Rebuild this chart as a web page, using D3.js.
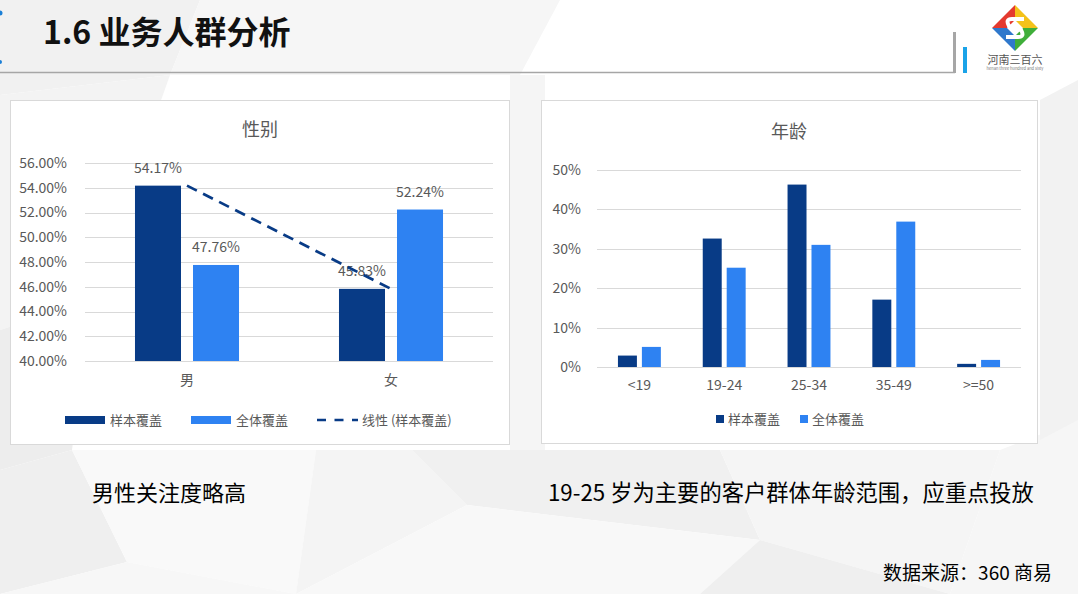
<!DOCTYPE html>
<html><head><meta charset="utf-8">
<script src="https://cdn.jsdelivr.net/npm/d3@7"></script>
<style>
html,body{margin:0;padding:0;background:#fff;}
svg{display:block;}
text{font-family:"Noto Sans CJK SC","Noto Sans",sans-serif;}
</style></head>
<body>
<svg id="c" width="1078" height="594"></svg>
<script>
// ---- data ----
const pageTitle = "1.6 业务人群分析";
const seriesNames = ["样本覆盖", "全体覆盖"];
const trendName = "线性 (样本覆盖)";

const genderTitle = "性别";
const genderCategories = ["男", "女"];
const genderSample = [0.5417, 0.4583];
const genderTotal = [0.4776, 0.5224];
const genderTicks = [0.40, 0.42, 0.44, 0.46, 0.48, 0.50, 0.52, 0.54, 0.56];

const ageTitle = "年龄";
const ageCategories = ["<19", "19-24", "25-34", "35-49", ">=50"];
const ageSample = [0.029, 0.326, 0.463, 0.171, 0.008];
const ageTotal = [0.051, 0.252, 0.310, 0.369, 0.018];
const ageTicks = [0, 0.1, 0.2, 0.3, 0.4, 0.5];

const noteLeft = "男性关注度略高";
const noteRight = "19-25 岁为主要的客户群体年龄范围，应重点投放";
const sourceNote = "数据来源：360 商易";

// ---- styles ----
const DARK = "#083b86", LIGHT = "#2e82f2", GRID = "#d9d9d9", TXT = "#595959";
const svg = d3.select("#c");

// background low-poly
const bg = svg.append("g");
bg.append("rect").attr("width",1078).attr("height",594).attr("fill","#ffffff");
const polys = [
  {p:[[0,0],[200,0],[170,75],[0,95]], f:"#f1f1f1"},
  {p:[[200,0],[560,0],[520,75],[170,75]], f:"#f6f6f6"},
  {p:[[0,95],[170,75],[90,300],[0,330]], f:"#f3f3f3"},
  {p:[[0,330],[90,300],[72,450],[0,470]], f:"#ededed"},
  {p:[[0,470],[72,450],[127,562],[0,594]], f:"#efefef"},
  {p:[[72,450],[316,450],[296,594],[127,562]], f:"#f9f9f9"},
  {p:[[127,562],[296,594],[0,594]], f:"#f7f7f7"},
  {p:[[316,450],[412,450],[467,505],[296,594]], f:"#f4f4f4"},
  {p:[[412,450],[720,450],[760,540],[467,505]], f:"#f0f0f0"},
  {p:[[467,505],[760,540],[700,594],[296,594]], f:"#f8f8f8"},
  {p:[[720,450],[1000,450],[950,594],[760,540]], f:"#f5f5f5"},
  {p:[[760,540],[950,594],[700,594]], f:"#efefef"},
  {p:[[1000,450],[1078,420],[1078,594],[950,594]], f:"#f6f6f6"},
  {p:[[1040,100],[1078,80],[1078,420],[1040,440]], f:"#f2f2f2"},
  {p:[[510,75],[545,75],[545,450],[510,450]], f:"#f5f5f5"}
];
bg.selectAll("polygon").data(polys).join("polygon")
  .attr("points", d => d.p.map(q => q.join(",")).join(" "))
  .attr("fill", d => d.f);

// header
svg.append("text").attr("x",43).attr("y",44).attr("font-size",32).attr("font-weight","bold")
  .attr("fill","#111").text(pageTitle);
svg.append("line").attr("x1",0).attr("x2",955).attr("y1",72.5).attr("y2",72.5)
  .attr("stroke","#a6a6a6").attr("stroke-width",1.5);
svg.append("rect").attr("x",953).attr("y",32).attr("width",3).attr("height",41).attr("fill","#a6a6a6");
svg.append("rect").attr("x",963).attr("y",47).attr("width",4).attr("height",26).attr("fill","#1aa3e8");
svg.append("circle").attr("cx",0).attr("cy",13).attr("r",2.5).attr("fill","#1b7fd6");
svg.append("circle").attr("cx",0).attr("cy",62).attr("r",2).attr("fill","#1b7fd6");

// logo
const lg = svg.append("g");
const cx = 1015, cy = 28;
lg.append("polygon").attr("points",`${cx},${cy-23} ${cx-23},${cy} ${cx-8},${cy} ${cx},${cy-8}`).attr("fill","#e43a2f");
lg.append("polygon").attr("points",`${cx},${cy-23} ${cx+23},${cy} ${cx+8},${cy} ${cx},${cy-8}`).attr("fill","#f4c21a");
lg.append("polygon").attr("points",`${cx-23},${cy} ${cx},${cy+23} ${cx},${cy+8} ${cx-8},${cy}`).attr("fill","#2f78cc");
lg.append("polygon").attr("points",`${cx+23},${cy} ${cx},${cy+23} ${cx},${cy+8} ${cx+8},${cy}`).attr("fill","#3fae3a");
lg.append("path").attr("d",`M${cx+9},${cy-9} L${cx-3},${cy-9} Q${cx-10},${cy-9} ${cx-6},${cy-2} L${cx+6},${cy+2} Q${cx+10},${cy+9} ${cx+3},${cy+9} L${cx-9},${cy+9}`)
  .attr("fill","none").attr("stroke","#fff").attr("stroke-width",4);
lg.append("text").attr("x",cx).attr("y",64).attr("text-anchor","middle").attr("font-size",11).attr("fill","#555").text("河南三百六");
lg.append("text").attr("x",cx).attr("y",70).attr("text-anchor","middle").attr("font-size",4).attr("fill","#777").text("henan three hundred and sixty");

// panels
function panel(x, y, w, h) {
  svg.append("rect").attr("x",x+0.5).attr("y",y+0.5).attr("width",w).attr("height",h)
    .attr("fill","#fff").attr("stroke",GRID).attr("stroke-width",1);
}
panel(10, 100, 499, 344);
panel(541, 100, 496, 343);

// ---------- gender chart ----------
(function(){
  const g = svg.append("g");
  const x0 = d3.scaleBand().domain(genderCategories).range([85, 493]);
  const x1 = d3.scaleBand().domain(seriesNames)
    .range([x0.bandwidth()*0.245, x0.bandwidth()*0.755]).paddingInner(0.207);
  const y = d3.scaleLinear().domain([0.40, 0.56]).range([361, 163]);

  g.append("text").attr("x",260).attr("y",136).attr("text-anchor","middle")
    .attr("font-size",18).attr("fill",TXT).text(genderTitle);

  g.selectAll("line.grid").data(genderTicks).join("line").attr("class","grid")
    .attr("x1",85).attr("x2",493).attr("y1",d=>Math.round(y(d))+0.5).attr("y2",d=>Math.round(y(d))+0.5)
    .attr("stroke",GRID).attr("stroke-width",1);
  const ya = d3.axisLeft(y).tickValues(genderTicks).tickFormat(d3.format(".2%")).tickSize(0).tickPadding(18);
  const yg = g.append("g").attr("transform","translate(85,0)").call(ya);
  yg.select(".domain").remove();
  yg.selectAll("text").attr("font-size",14).attr("fill",TXT);

  const rows = genderCategories.map((c,i)=>({c, vals:[genderSample[i], genderTotal[i]]}));
  const grp = g.selectAll("g.cat").data(rows).join("g").attr("transform",d=>`translate(${x0(d.c)},0)`);
  grp.selectAll("rect").data(d=>d.vals.map((v,j)=>({v, s:seriesNames[j]}))).join("rect")
    .attr("x",d=>x1(d.s)).attr("width",x1.bandwidth())
    .attr("y",d=>y(d.v)).attr("height",d=>y(0.40)-y(d.v))
    .attr("fill",d=>d.s===seriesNames[0]?DARK:LIGHT);

  // trendline (linear fit through sample points)
  const line = d3.line().x(d=>x0(d.c)+x0.bandwidth()/2).y(d=>y(d.v));
  g.append("path").datum(genderCategories.map((c,i)=>({c, v:genderSample[i]})))
    .attr("d",line).attr("fill","none").attr("stroke",DARK).attr("stroke-width",2.75)
    .attr("stroke-dasharray","11,7");

  grp.selectAll("text.lbl").data(d=>d.vals.map((v,j)=>({v, s:seriesNames[j]}))).join("text").attr("class","lbl")
    .attr("x",d=>x1(d.s)+x1.bandwidth()/2).attr("y",d=>y(d.v)-13)
    .attr("text-anchor","middle").attr("font-size",14).attr("fill",TXT)
    .text(d=>d3.format(".2%")(d.v));

  const xa = d3.axisBottom(x0).tickSize(0).tickPadding(14);
  const xg = g.append("g").attr("transform","translate(0,361)").call(xa);
  xg.select(".domain").remove();
  xg.selectAll("text").attr("font-size",14).attr("fill",TXT);

  // legend
  const lg = g.append("g");
  lg.append("rect").attr("x",65).attr("y",416).attr("width",40).attr("height",8).attr("fill",DARK);
  lg.append("text").attr("x",110).attr("y",425).attr("font-size",13).attr("fill",TXT).text(seriesNames[0]);
  lg.append("rect").attr("x",191).attr("y",416).attr("width",40).attr("height",8).attr("fill",LIGHT);
  lg.append("text").attr("x",236).attr("y",425).attr("font-size",13).attr("fill",TXT).text(seriesNames[1]);
  lg.append("line").attr("x1",317).attr("x2",358).attr("y1",420).attr("y2",420)
    .attr("stroke",DARK).attr("stroke-width",2.5).attr("stroke-dasharray","9,8.5");
  lg.append("text").attr("x",362).attr("y",425).attr("font-size",13).attr("fill",TXT).text(trendName);
})();

// ---------- age chart ----------
(function(){
  const g = svg.append("g");
  const x0 = d3.scaleBand().domain(ageCategories).range([597, 1021]);
  const bw = x0.bandwidth();
  const x1 = d3.scaleBand().domain(seriesNames)
    .range([bw*0.247, bw*0.753]).paddingInner(0.208);
  const y = d3.scaleLinear().domain([0, 0.5]).range([367, 170]);

  g.append("text").attr("x",789).attr("y",138).attr("text-anchor","middle")
    .attr("font-size",18).attr("fill",TXT).text(ageTitle);

  g.selectAll("line.grid").data(ageTicks).join("line").attr("class","grid")
    .attr("x1",597).attr("x2",1021).attr("y1",d=>Math.round(y(d))+0.5).attr("y2",d=>Math.round(y(d))+0.5)
    .attr("stroke",GRID).attr("stroke-width",1);
  const ya = d3.axisLeft(y).tickValues(ageTicks).tickFormat(d3.format(".0%")).tickSize(0).tickPadding(16);
  const yg = g.append("g").attr("transform","translate(597,0)").call(ya);
  yg.select(".domain").remove();
  yg.selectAll("text").attr("font-size",14).attr("fill",TXT);

  const rows = ageCategories.map((c,i)=>({c, vals:[ageSample[i], ageTotal[i]]}));
  const grp = g.selectAll("g.cat").data(rows).join("g").attr("transform",d=>`translate(${x0(d.c)},0)`);
  grp.selectAll("rect").data(d=>d.vals.map((v,j)=>({v, s:seriesNames[j]}))).join("rect")
    .attr("x",d=>x1(d.s)).attr("width",x1.bandwidth())
    .attr("y",d=>y(d.v)).attr("height",d=>y(0)-y(d.v))
    .attr("fill",d=>d.s===seriesNames[0]?DARK:LIGHT);

  const xa = d3.axisBottom(x0).tickSize(0).tickPadding(13);
  const xg = g.append("g").attr("transform","translate(0,367)").call(xa);
  xg.select(".domain").remove();
  xg.selectAll("text").attr("font-size",14).attr("fill",TXT);

  const lg = g.append("g");
  lg.append("rect").attr("x",716).attr("y",415).attr("width",8).attr("height",8).attr("fill",DARK);
  lg.append("text").attr("x",728).attr("y",424).attr("font-size",13).attr("fill",TXT).text(seriesNames[0]);
  lg.append("rect").attr("x",800).attr("y",415).attr("width",8).attr("height",8).attr("fill",LIGHT);
  lg.append("text").attr("x",812).attr("y",424).attr("font-size",13).attr("fill",TXT).text(seriesNames[1]);
})();

// notes
svg.append("text").attr("x",92).attr("y",501).attr("font-size",22).attr("fill","#000").text(noteLeft);
svg.append("text").attr("x",548).attr("y",501).attr("font-size",22.3).attr("fill","#000").text(noteRight);
svg.append("text").attr("x",1052).attr("y",580).attr("text-anchor","end").attr("font-size",19).attr("fill","#000").text(sourceNote);
</script>
</body></html>
